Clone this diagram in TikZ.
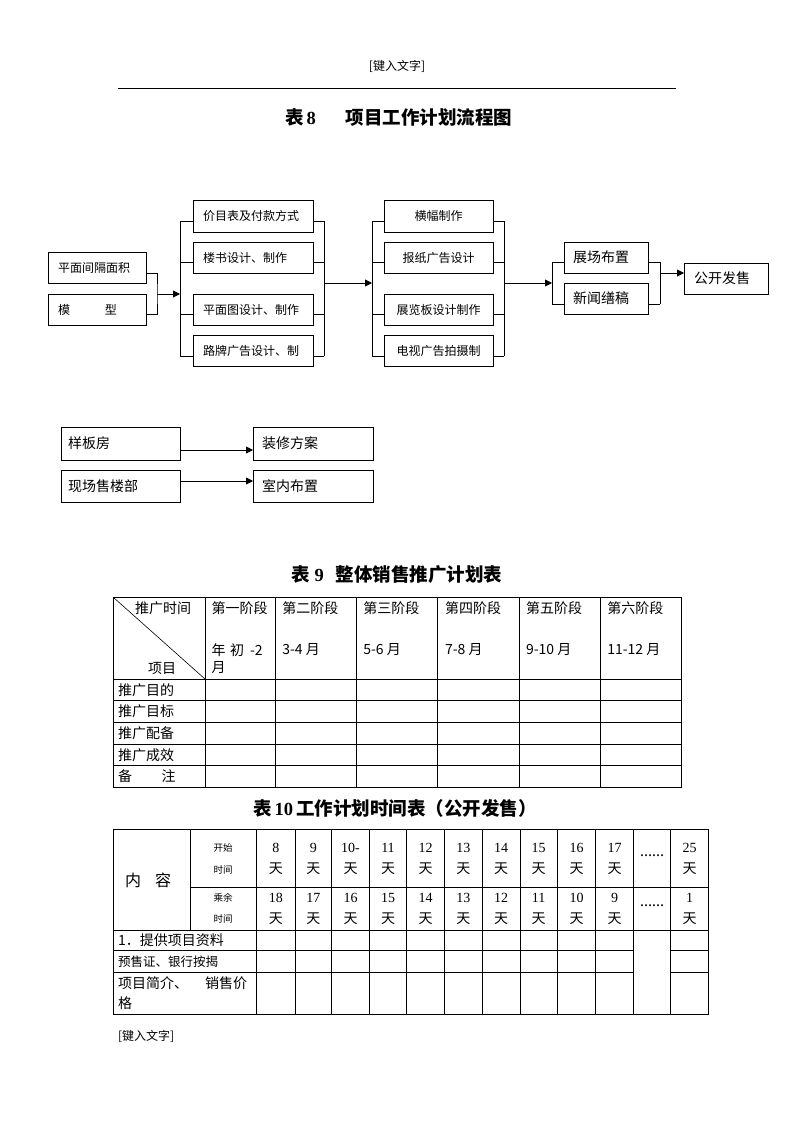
\documentclass[tikz,border=0pt]{standalone}
\usepackage{fontspec}
\setmainfont{Liberation Serif}
\newfontfamily\cjk{Noto Sans CJK SC}
\usetikzlibrary{arrows.meta,calc}
\newcommand\fsz[1]{\fontsize{#1}{#1}\selectfont}
\begin{document}
\begin{tikzpicture}[x=1pt,y=-1pt,
  every node/.style={inner sep=0pt,outer sep=0pt},
  ln/.style={line width=0.9pt},
  tl/.style={line width=0.9pt},
  arr/.style={line width=0.9pt,-{Triangle[length=7pt,width=7pt]}},
  f12/.style={font=\cjk\fsz{12}},
  f14/.style={font=\cjk\fsz{14}},
  bx/.style={draw,line width=0.9pt,inner ysep=0pt,align=left},
  bxc/.style={draw,line width=0.9pt,inner ysep=0pt,align=center},
  pbox/.style={bx,f12,minimum width=98pt,minimum height=31pt,text width=78pt,inner xsep=10pt},
  bbox/.style={bx,f12,minimum width=120pt,text width=100pt,inner xsep=10pt},
  cbox/.style={bxc,f12,minimum width=109pt,text width=101pt,inner xsep=4pt},
  dbox/.style={bx,f14,minimum width=84pt,minimum height=31pt,text width=66pt,inner xsep=9pt},
  sbox/.style={bx,f14,minimum width=119pt,text width=105pt,inner xsep=7pt},
  tbox/.style={bx,f14,minimum width=120pt,text width=102pt,inner xsep=9pt},
  num/.style={font=\rmfamily\fsz{14}},
  ttl/.style={font=\cjk\bfseries\fsz{18.5},anchor=west},
]
\fill[white] (0,0) rectangle (794,1123);
\useasboundingbox (0,0) rectangle (794,1123);

% header
\node[f12] (hdr) at (397,66) {[键入文字]};
\coordinate (rl) at (118,88);
\coordinate (rr) at (676,88);
\draw[line width=0.8pt] (rl) -- (rr);

% title 8
\node[ttl] (tt8) at (285,117) {表\hspace{3pt}{\rmfamily 8}\hspace{30pt}项目工作计划流程图};

% ---------------- flowchart ----------------
\node[pbox] (p1) at (97,267.5) {平面间隔面积};
\node[pbox] (p2) at (97,309.5) {模\hspace{35pt}型};
\coordinate (j1) at (157,294);
\coordinate (k1) at (180,294);
\draw[ln] ($(p1.east)+(0,5.5)$) -| (j1) |- ($(p2.east)+(0,4.5)$);
\draw[arr] (j1) -- (k1);

\node[bbox,minimum height=32pt] (b1) at (253,216) {价目表及付款方式};
\node[bbox,minimum height=31pt] (b2) at (253,257.5) {楼书设计、制作};
\node[bbox,minimum height=31pt] (b3) at (253,309.5) {平面图设计、制作};
\node[bbox,minimum height=31pt] (b4) at (253,350.5) {路牌广告设计、制};
\foreach \n/\o in {b1/5,b2/4.5,b3/4.5,b4/5.5} {
  \draw[ln] ($(\n.west)+(0,\o)$) -- ++(-13,0);
  \draw[ln] ($(\n.east)+(0,\o)$) -- ++(11,0);
}
\draw[ln] ($(b1.west)+(-13,5)$) -- ($(b4.west)+(-13,5.5)$);
\draw[ln] ($(b1.east)+(11,5)$) -- ($(b4.east)+(11,5.5)$);
\coordinate (m1) at (324,283);
\coordinate (m2) at (372,283);
\draw[arr] (m1) -- (m2);

\node[cbox,minimum height=32pt] (c1) at (438.5,216) {横幅制作};
\node[cbox,minimum height=31pt] (c2) at (438.5,257.5) {报纸广告设计};
\node[cbox,minimum height=31pt] (c3) at (438.5,309.5) {展览板设计制作};
\node[cbox,minimum height=31pt] (c4) at (438.5,351) {电视广告拍摄制};
\foreach \n/\o in {c1/5,c2/4.5,c3/4.5,c4/5} {
  \draw[ln] ($(\n.west)+(0,\o)$) -- ++(-12,0);
  \draw[ln] ($(\n.east)+(0,\o)$) -- ++(11,0);
}
\draw[ln] ($(c1.west)+(-12,5)$) -- ($(c4.west)+(-12,5)$);
\draw[ln] ($(c1.east)+(11,5)$) -- ($(c4.east)+(11,5)$);
\coordinate (m3) at (504,283);
\coordinate (m4) at (552,283);
\draw[arr] (m3) -- (m4);

\node[dbox] (d1) at (606,257.5) {展场布置};
\node[dbox] (d2) at (606,298.5) {新闻缮稿};
\foreach \n/\o in {d1/4.5,d2/5.5} {
  \draw[ln] ($(\n.west)+(0,\o)$) -- ++(-12,0);
  \draw[ln] ($(\n.east)+(0,\o)$) -- ++(12,0);
}
\draw[ln] ($(d1.west)+(-12,4.5)$) -- ($(d2.west)+(-12,5.5)$);
\draw[ln] ($(d1.east)+(12,4.5)$) -- ($(d2.east)+(12,5.5)$);
\coordinate (m5) at (660,273);
\node[dbox,text width=64pt,inner xsep=10pt] (e) at (726,278.5) {公开发售};
\draw[arr] (m5) -- (e.west |- m5);

% lower boxes
\node[sbox,minimum height=33pt] (s1) at (120.5,443.5) {样板房};
\node[sbox,minimum height=32pt] (s2) at (120.5,486) {现场售楼部};
\node[tbox,minimum height=33pt] (t1) at (313,443.5) {装修方案};
\node[tbox,minimum height=32pt] (t2) at (313,486) {室内布置};
\draw[arr] ($(s1.east)+(0,6.5)$) -- ($(t1.west)+(0,6.5)$);
\draw[arr] ($(s2.east)+(0,-5)$) -- ($(t2.west)+(0,-5)$);

% ---------------- table 9 ----------------
\node[ttl] (tt9) at (291,575) {表\hspace{5pt}{\rmfamily 9}\hspace{12pt}整体销售推广计划表};
\draw[tl] (113.3,597.3) rectangle (681.7,787.7);
\foreach \x in {205,275.7,356.7,437.7,519.3,600.7} \draw[tl] (\x,597.3) -- (\x,787.7);
\foreach \y in {679,700.7,722.3,744,765.7} \draw[tl] (113.3,\y) -- (681.7,\y);
\draw[line width=0.6pt] (113.3,597.3) -- (205,679);

\node[f14,anchor=west] (h1) at (135,608) {推广时间};
\node[f14,anchor=west] (h2) at (148,668) {项目};
\foreach \x/\t [count=\i] in {211.7/第一阶段,282.3/第二阶段,363.3/第三阶段,445/第四阶段,526/第五阶段,607.3/第六阶段}
  \node[f14,anchor=west] (st\i) at (\x,608) {\t};
\node[f14,anchor=west] (y1) at (211.7,650) {年};
\node[f14,anchor=west] (y2) at (230,650) {初};
\node[f14,anchor=west] (y3) at (250,650) {-2};
\node[f14,anchor=west] (y4) at (211.7,668) {月};
\foreach \x/\t [count=\i] in {282.3/3-4 月,363.3/5-6 月,445/7-8 月,526/9-10 月,607.3/11-12 月}
  \node[f14,anchor=west] (mo\i) at (\x,650) {\t};
\foreach \y/\t [count=\i] in {690/推广目的,711.5/推广目标,733/推广配备,755/推广成效}
  \node[f14,anchor=west] (rw\i) at (118,\y) {\t};
\node[f14,anchor=west] (bz1) at (118,776.5) {备};
\node[f14,anchor=west] (bz2) at (161.7,776.5) {注};

% ---------------- table 10 ----------------
\node[ttl] (tt10) at (253,808) {表\hspace{3pt}{\rmfamily 10}\hspace{3pt}工作计划时间表（公开发售）};
\draw[tl] (113.3,829) rectangle (708.3,1014.3);
\draw[tl] (190.7,829) -- (190.7,930);
\foreach \x in {256.7,295,331.7,369.3,406.7,444.3,482.3,520,557.3,595.7,633.3,670.7}
  \draw[tl] (\x,829) -- (\x,1014.3);
\draw[tl] (190.7,887.3) -- (708.3,887.3);
\draw[tl] (113.3,930) -- (708.3,930);
\foreach \y in {950.7,972.3} {
  \draw[tl] (113.3,\y) -- (633.3,\y);
  \draw[tl] (670.7,\y) -- (708.3,\y);
}
\node[font=\cjk\fsz{16}] (nr) at (148,880) {内\hspace{14pt}容};
\node[font=\cjk\fsz{9.5}] (ks1) at (223,848) {开始};
\node[font=\cjk\fsz{9.5}] (ks2) at (223,870) {时间};
\node[font=\cjk\fsz{9.5}] (ks3) at (223,898) {乘余};
\node[font=\cjk\fsz{9.5}] (ks4) at (223,919) {时间};
\foreach \x/\a/\b [count=\i] in {275.85/8/18,313.35/9/17,350.5/10-/16,388/11/15,425.5/12/14,463.3/13/13,501.15/14/12,538.65/15/11,576.5/16/10,614.5/17/9,689.5/25/1} {
  \node[num] (na\i) at (\x,848) {\a};
  \node[f14] (ta\i) at (\x,869) {天};
  \node[num] (nb\i) at (\x,898) {\b};
  \node[f14] (tb\i) at (\x,919) {天};
}
\node[font=\rmfamily\bfseries\fsz{12}] (el1) at (652,856) {……};
\node[font=\rmfamily\bfseries\fsz{12}] (el2) at (652,906) {……};
\node[f14,anchor=west] (r1) at (118,940) {1．提供项目资料};
\node[font=\cjk\fsz{12.5},anchor=west] (r2) at (118,961.5) {预售证、银行按揭};
\node[f14,anchor=west] (r3a) at (118,983) {项目简介、};
\node[f14,anchor=west] (r3b) at (205,983) {销售价};
\node[f14,anchor=west] (r4) at (118,1003) {格};

% footer
\node[f12,anchor=west] (ftr) at (118,1036) {[键入文字]};
\end{tikzpicture}
\end{document}
